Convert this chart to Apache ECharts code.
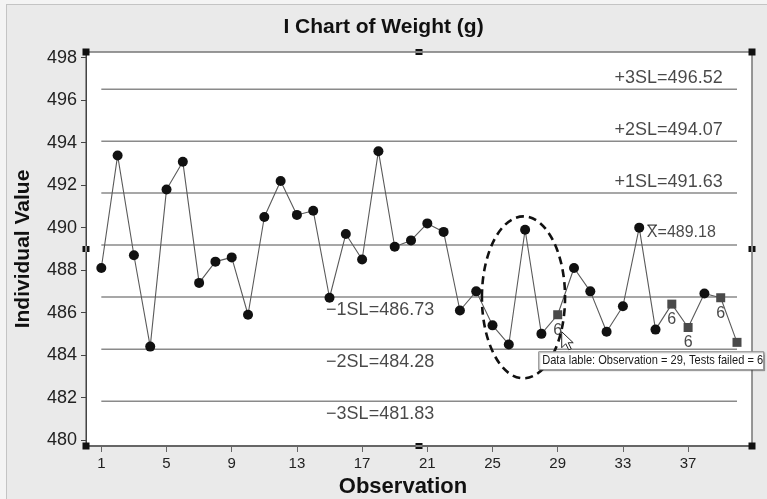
<!DOCTYPE html>
<html><head><meta charset="utf-8">
<script src="https://cdn.jsdelivr.net/npm/echarts@6/dist/echarts.min.js"></script>
<style>
html,body{margin:0;padding:0;background:#f4f4f4;overflow:hidden}
#frame{position:absolute;left:6px;top:4px;width:770px;height:500px;background:#eaeaea;border-left:1px solid #c4c4c4;border-top:1px solid #c4c4c4}
#c{position:absolute;left:0;top:0;width:767px;height:499px}
</style>
</head><body><div id="frame"></div><div id="c"></div>
<script>
// ---- data ----
const observations = [1,2,3,4,5,6,7,8,9,10,11,12,13,14,15,16,17,18,19,20,21,22,23,24,25,26,27,28,29,30,31,32,33,34,35,36,37,38,39,40];
const weights = [488.1,493.4,488.7,484.4,491.8,493.1,487.4,488.4,488.6,485.9,
                 490.5,492.2,490.6,490.8,486.7,489.7,488.5,493.6,489.1,489.4,
                 490.2,489.8,486.1,487.0,485.4,484.5,489.9,485.0,485.9,488.1,
                 487.0,485.1,486.3,490.0,485.2,486.4,485.3,486.9,486.7,484.6];
const flaggedObs = [29,36,37,39,40];
const labeledFlags = [29,36,37,39];
const failedTest = '6';
const limitValues = [496.52,494.07,491.63,489.18,486.73,484.28,481.83];
const limitLabels = ['+3SL=496.52','+2SL=494.07','+1SL=491.63','X\u0304=489.18','\u22121SL=486.73','\u22122SL=484.28','\u22123SL=481.83'];
const xTickLabels = [1,5,9,13,17,21,25,29,33,37];
const yTickLabels = [480,482,484,486,488,490,492,494,496,498];
const tipText = 'Data lable: Observation = 29, Tests failed = 6';
const tipObs = 29;

// ---- chart ----
const X_MIN = 0.06, X_MAX = 40.92, Y_MIN = 479.72, Y_MAX = 498.27;
const chart = echarts.init(document.getElementById('c'), null, {renderer:'canvas'});
const FONT = 'Liberation Sans, Arial, sans-serif';
const MEAN_IDX = 3, MEAN_X = 38.7, MEAN_FONT = 16;
// the mean label is written as X + overline bar (drawn separately for clean rendering)
const meanShown = limitLabels[MEAN_IDX].replace('\u0304', '');

const series = [];
limitValues.forEach((v) => {
  series.push({type:'line', silent:true, symbol:'none', z:1,
    data:[[observations[0], v],[observations[observations.length-1], v]],
    lineStyle:{color:'#8a8a8a', width:1.5}});
});
// limit text labels
series.push({type:'scatter', silent:true, symbolSize:0, z:4,
  data: limitValues.map((v,i) => {
    const upper = i < 3, mean = i === MEAN_IDX;
    const x = upper ? 39.12 : (mean ? MEAN_X : 14.79);
    return {value:[x, v], label:{show:true, formatter: mean ? meanShown : limitLabels[i], position:'inside',
      align: (upper||mean) ? 'right' : 'left', verticalAlign:'middle',
      offset:[0, upper ? -11 : (mean ? -12 : 13)],
      fontSize: mean ? MEAN_FONT : 18, fontFamily: FONT, color:'#1a1a1a'}};
  })});
series.push({type:'line', z:3,
  data: observations.map((o,i) => {
    const flagged = flaggedObs.indexOf(o) >= 0;
    const item = {value:[o, weights[i]], symbol: flagged ? 'rect' : 'circle',
      symbolSize: flagged ? 9 : 10, itemStyle:{color: flagged ? '#4a4a4a' : '#111'}};
    if (labeledFlags.indexOf(o) >= 0) {
      item.label = {show:true, formatter: failedTest, position:'bottom', distance:3,
        color:'#4a4a4a', fontSize:16, fontFamily: FONT};
    }
    return item;
  }),
  lineStyle:{color:'#5a5a5a', width:1.1},
  showAllSymbol:true});

const option = {
  animation:false,
  backgroundColor:'transparent',
  title:{text:'I Chart of Weight (g)', left:'center', top:12,
    textStyle:{fontFamily: FONT, fontWeight:'bold', fontSize:21, color:'#111'}},
  grid:{left:86, right:15, top:52, bottom:53, show:true, backgroundColor:'#fff',
    borderColor:'#777', borderWidth:1.5, outerBoundsMode:'none', containLabel:false},
  xAxis:{type:'value', min:X_MIN, max:X_MAX,
    axisLine:{show:true, onZero:false, lineStyle:{color:'#666', width:2}},
    axisTick:{show:true, length:6, customValues: xTickLabels, lineStyle:{color:'#666'}},
    axisLabel:{customValues: xTickLabels, margin:10, fontFamily: FONT, fontSize:15, color:'#222'},
    splitLine:{show:false},
    name:'Observation', nameLocation:'middle', nameGap:27,
    nameTextStyle:{fontFamily: FONT, fontWeight:'bold', fontSize:22, color:'#111', padding:[0,32,0,0]}},
  yAxis:{type:'value', min:Y_MIN, max:Y_MAX,
    axisLine:{show:true, onZero:false, lineStyle:{color:'#444', width:1}},
    axisTick:{show:true, length:5, customValues: yTickLabels, lineStyle:{color:'#444'}},
    axisLabel:{customValues: yTickLabels, margin:9, fontFamily: FONT, fontSize:18, color:'#222'},
    splitLine:{show:false},
    name:'Individual Value', nameLocation:'middle', nameGap:52,
    nameTextStyle:{fontFamily: FONT, fontWeight:'bold', fontSize:21, color:'#111'}},
  series: series
};
chart.setOption(option);

function px(p){ return chart.convertToPixel({gridIndex:0}, p); }
const tl = px([X_MIN, Y_MAX]), br = px([X_MAX, Y_MIN]);
const midX = (tl[0]+br[0])/2, midY = (tl[1]+br[1])/2;
const g = [];
// overline on the X of the mean label
const mctx = document.createElement('canvas').getContext('2d');
mctx.font = MEAN_FONT + 'px Liberation Sans';
const mp = px([MEAN_X, limitValues[MEAN_IDX]]);
const wAll = mctx.measureText(meanShown).width, wX = mctx.measureText('X').width;
const xl = mp[0] - wAll, barY = mp[1] - 12 - 8;
g.push({type:'line', z:60, silent:true, shape:{x1:xl+0.5, y1:barY, x2:xl+wX-0.5, y2:barY},
  style:{stroke:'#1a1a1a', lineWidth:1}});
// dashed ring around observations 25-28
const c = px([26.9, 486.72]);
const e = px([26.9 + 2.55, 486.72 + 3.81]);
g.push({type:'ellipse', z:60, silent:true,
  shape:{cx:c[0], cy:c[1], rx:Math.abs(e[0]-c[0]), ry:Math.abs(c[1]-e[1])},
  style:{fill:'none', stroke:'#111', lineWidth:2.6, lineDash:[8,5]}});
// handles
const H = 7;
[[tl[0],tl[1]],[br[0],tl[1]],[tl[0],br[1]],[br[0],br[1]]].forEach(p => {
  g.push({type:'rect', z:70, silent:true, shape:{x:p[0]-H/2, y:p[1]-H/2, width:H, height:H}, style:{fill:'#111'}});
});
[[midX,tl[1],0],[midX,br[1],0],[tl[0],midY,1],[br[0],midY,1]].forEach(p => {
  g.push({type:'rect', z:70, silent:true, shape:{x:p[0]-3.5, y:p[1]-3, width:7, height:6}, style:{fill:'#111'}});
  if (p[2] === 0) g.push({type:'rect', z:71, silent:true, shape:{x:p[0]-3.5, y:p[1]-0.5, width:7, height:1}, style:{fill:'#fff'}});
  else g.push({type:'rect', z:71, silent:true, shape:{x:p[0]-0.5, y:p[1]-3, width:1, height:6}, style:{fill:'#fff'}});
});
// data tip
const tp = px([tipObs, weights[observations.indexOf(tipObs)]]);
g.push({type:'rect', z:80, silent:true, shape:{x:tp[0]-19, y:tp[1]+37, width:225, height:18},
  style:{fill:'#fff', stroke:'#8a8a8a', lineWidth:1, shadowColor:'rgba(0,0,0,0.25)', shadowOffsetX:1, shadowOffsetY:1, shadowBlur:1}});
g.push({type:'text', z:81, silent:true, x:tp[0]-15.5, y:tp[1]+46, scaleX:0.82, scaleY:1,
  style:{text: tipText, font:'13.5px Liberation Sans', fill:'#1a1a1a', verticalAlign:'middle', align:'left'}});
// pointer
const cx0 = tp[0]+4, cy0 = tp[1]+17;
g.push({type:'polygon', z:82, silent:true,
  shape:{points:[[cx0,cy0],[cx0,cy0+16],[cx0+4,cy0+12],[cx0+7,cy0+18],[cx0+9.5,cy0+17],[cx0+6.5,cy0+11],[cx0+11.5,cy0+11]]},
  style:{fill:'#fff', stroke:'#222', lineWidth:1}});
chart.setOption({graphic: g});
</script>
</body></html>
